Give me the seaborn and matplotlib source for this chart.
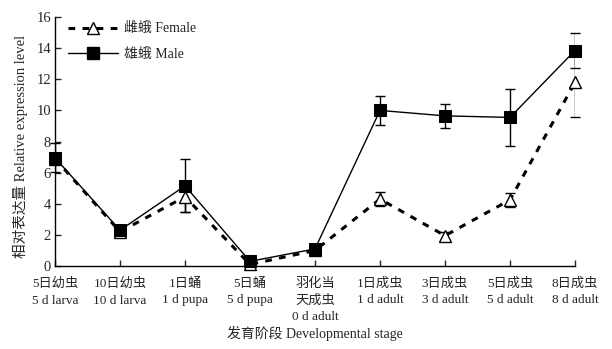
import numpy as np
import pandas as pd
import matplotlib
matplotlib.use("Agg")
import matplotlib.pyplot as plt
from matplotlib.lines import Line2D
import seaborn as sns

# Developmental stages (Chinese / English labels)
stages = [
    "5日幼虫\n5 d larva",
    "10日幼虫\n10 d larva",
    "1日蛹\n1 d pupa",
    "5日蛹\n5 d pupa",
    "羽化当\n天成虫\n0 d adult",
    "1日成虫\n1 d adult",
    "3日成虫\n3 d adult",
    "5日成虫\n5 d adult",
    "8日成虫\n8 d adult",
]

# Relative expression level, mean and error
female_mean = [6.9, 2.2, 4.45, 0.1, 1.0, 4.3, 1.95, 4.25, 11.8]
female_err = [0.15, 0.2, 0.95, 0.1, 0.15, 0.45, 0.25, 0.45, 2.25]
male_mean = [6.95, 2.3, 5.15, 0.3, 1.1, 10.0, 9.65, 9.55, 13.85]
male_err = [0.93, 0.25, 1.7, 0.15, 0.15, 0.95, 0.77, 1.85, 1.1]

female_label = "雌蛾 Female"
male_label = "雄蛾 Male"

sns.set_theme(style="ticks")
plt.rcParams["font.family"] = ["Liberation Serif", "Noto Sans CJK SC"]
plt.rcParams["axes.unicode_minus"] = False

pos = np.arange(len(stages))
df_f = pd.DataFrame({"pos": pos, "value": female_mean})
df_m = pd.DataFrame({"pos": pos, "value": male_mean})

fig = plt.figure(figsize=(6.12, 3.49), dpi=100)
ax = fig.add_axes([0.0899, 0.2378, 0.8496, 0.7133])

# error bars
ax.errorbar(pos, female_mean, yerr=female_err, fmt="none", ecolor="black",
            elinewidth=1.0, capsize=3.8, capthick=1.0, zorder=2)
ax.errorbar(pos, male_mean, yerr=male_err, fmt="none", ecolor="black",
            elinewidth=1.0, capsize=3.8, capthick=1.0, zorder=2)

# female: thick dashed line, open triangles
sns.lineplot(data=df_f, x="pos", y="value", ax=ax, color="black",
             linewidth=2.2, linestyle=(0, (2.2, 2.4)), marker="^",
             markersize=9, markerfacecolor="white", markeredgecolor="black",
             markeredgewidth=1.0, zorder=3)
# male: thin solid line, filled squares
sns.lineplot(data=df_m, x="pos", y="value", ax=ax, color="black",
             linewidth=1.0, marker="s", markersize=9,
             markerfacecolor="black", markeredgecolor="black", zorder=4)

for ln in ax.lines:
    ln.set_clip_on(False)

ax.set_xlim(0, 8)
ax.set_ylim(0, 16)
ax.set_yticks(np.arange(0, 17, 2))
ax.set_xticks(pos)
ax.set_xticklabels(stages, fontsize=9.5, linespacing=1.5, va="top")
ax.tick_params(axis="y", direction="in", length=4, width=1, labelsize=10.5, pad=3)
ax.tick_params(axis="x", direction="in", length=4, width=1, pad=8.5)
sns.despine(ax=ax)
for sp in ["left", "bottom"]:
    ax.spines[sp].set_linewidth(1.0)
    ax.spines[sp].set_color("black")

ax.set_xlabel("发育阶段 Developmental stage", fontsize=10, labelpad=2)
ax.set_ylabel("相对表达量 Relative expression level", fontsize=10.5)
ax.yaxis.set_label_coords(-0.052, 0.48)

handles = [
    Line2D([], [], color="black", linewidth=2.2, linestyle=(0, (2.2, 2.4)),
           marker="^", markersize=9, markerfacecolor="white",
           markeredgecolor="black"),
    Line2D([], [], color="black", linewidth=1.0, marker="s", markersize=9,
           markerfacecolor="black", markeredgecolor="black"),
]
ax.legend(handles, [female_label, male_label], loc="upper left",
          bbox_to_anchor=(0.0, 1.03), frameon=False, fontsize=10,
          handlelength=3.6, handletextpad=0.5, labelspacing=0.9)

fig.savefig("out.png", dpi=100)
